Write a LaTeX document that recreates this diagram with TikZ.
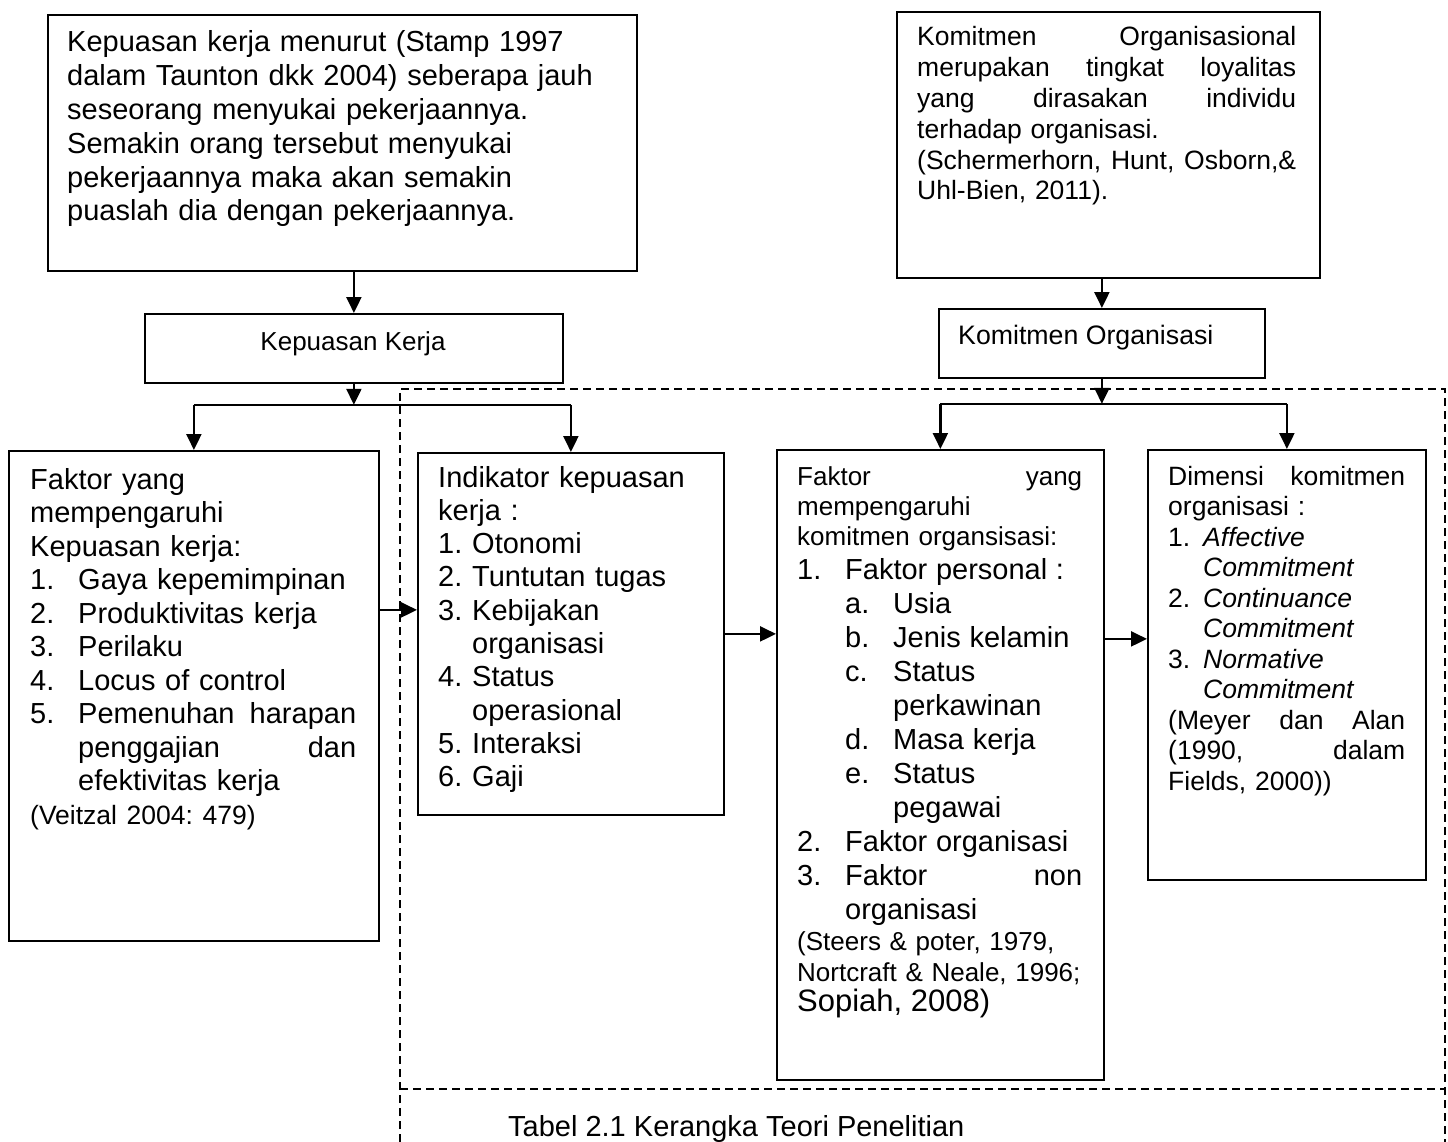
\documentclass[tikz,border=0pt]{standalone}
\usepackage{fontspec}
\setmainfont{Liberation Sans}
\usetikzlibrary{arrows.meta, positioning, calc}
\frenchspacing

\begin{document}
\begin{tikzpicture}[x=1pt, y=-1pt, >={Triangle[length=16pt, width=15pt]},
  box/.style={draw, line width=1.8pt, anchor=north west, inner sep=0pt},
  txt/.style={anchor=base west, inner sep=0pt, align=left},
  arr/.style={->, line width=2.2pt},
  frame/.style={line width=1.6pt, dash pattern=on 8pt off 5pt}]

\useasboundingbox (0,0) rectangle (1448,1142);

% Dashed frame
\draw[frame] (400,1142) -- (400,389) -- (1445,389) -- (1445,1142);
\draw[frame] (400,1089) -- (1445,1089);

% Boxes (pixel grid, y downwards)
\node[box, minimum width=589pt, minimum height=256pt] (kdef) at (47,14) {};
\node[box, minimum width=418pt, minimum height=69pt] (kk) at (144,313) {};
\node[box, minimum width=423pt, minimum height=266pt] (kodef) at (896,11) {};
\node[box, minimum width=326pt, minimum height=69pt] (ko) at (938,308) {};
\node[box, minimum width=370pt, minimum height=490pt] (fk) at (8,450) {};
\node[box, minimum width=306pt, minimum height=362pt] (ind) at (417,452) {};
\node[box, minimum width=327pt, minimum height=630pt] (fkom) at (776,449) {};
\node[box, minimum width=278pt, minimum height=430pt] (dim) at (1147,449) {};

% Texts
\node[txt, text width=560pt, font=\fontsize{29}{33.8}\selectfont] (kdeftxt) at (67,52)
  {Kepuasan kerja menurut (Stamp 1997\\
   dalam Taunton dkk 2004) seberapa jauh\\
   seseorang menyukai pekerjaannya.\\
   Semakin orang tersebut menyukai\\
   pekerjaannya maka akan semakin\\
   puaslah dia dengan pekerjaannya.};

\node[anchor=base, inner sep=0pt, font=\fontsize{26}{30}\selectfont] (kktxt) at (353,350) {Kepuasan Kerja};

\node[txt, text width=379pt, font=\fontsize{26.5}{30.8}\selectfont] (kodeftxt) at (917,46)
  {Komitmen\hfill Organisasional\\
   merupakan\hfill tingkat\hfill loyalitas\\
   yang\hfill dirasakan\hfill individu\\
   terhadap organisasi.\\
   (Schermerhorn,\hfill Hunt,\hfill Osborn,\&\\
   Uhl-Bien, 2011).};

\node[txt, font=\fontsize{26.7}{30}\selectfont] (kotxt) at (958,344) {Komitmen Organisasi};

\node[txt, text width=326pt, font=\fontsize{29}{33.5}\selectfont] (fktxt) at (30,489)
  {Faktor yang\\
   mempengaruhi\\
   Kepuasan kerja:\\
   \makebox[48pt][l]{1.}Gaya kepemimpinan\\
   \makebox[48pt][l]{2.}Produktivitas kerja\\
   \makebox[48pt][l]{3.}Perilaku\\
   \makebox[48pt][l]{4.}Locus of control\\
   \makebox[48pt][l]{5.}Pemenuhan\hfill harapan\\
   \hspace*{48pt}penggajian\hfill dan\\
   \hspace*{48pt}efektivitas kerja\\
   {\fontsize{26.5}{31}\selectfont (Veitzal 2004: 479)}};

\node[txt, text width=270pt, font=\fontsize{29}{33.3}\selectfont] (indtxt) at (438,487)
  {Indikator kepuasan\\
   kerja :\\
   \makebox[34pt][l]{1.}Otonomi\\
   \makebox[34pt][l]{2.}Tuntutan tugas\\
   \makebox[34pt][l]{3.}Kebijakan\\
   \hspace*{34pt}organisasi\\
   \makebox[34pt][l]{4.}Status\\
   \hspace*{34pt}operasional\\
   \makebox[34pt][l]{5.}Interaksi\\
   \makebox[34pt][l]{6.}Gaji};

\node[txt, text width=285pt, font=\fontsize{26}{30}\selectfont] (fkomtxt) at (797,485)
  {Faktor\hfill yang\\
   mempengaruhi\\
   komitmen organsisasi:\\
   {\fontsize{29}{34}\selectfont
   \makebox[48pt][l]{1.}Faktor personal :\\
   \hspace*{48pt}\makebox[48pt][l]{a.}Usia\\
   \hspace*{48pt}\makebox[48pt][l]{b.}Jenis kelamin\\
   \hspace*{48pt}\makebox[48pt][l]{c.}Status\\
   \hspace*{96pt}perkawinan\\
   \hspace*{48pt}\makebox[48pt][l]{d.}Masa kerja\\
   \hspace*{48pt}\makebox[48pt][l]{e.}Status\\
   \hspace*{96pt}pegawai\\
   \makebox[48pt][l]{2.}Faktor organisasi\\
   \makebox[48pt][l]{3.}Faktor\hfill non\\
   \hspace*{48pt}organisasi\\}
   {\fontsize{26}{31}\selectfont
   (Steers \& poter, 1979,\\
   Nortcraft \& Neale, 1996;\\}
   {\fontsize{31}{37}\selectfont Sopiah, 2008)}};

\node[txt, text width=237pt, font=\fontsize{26.5}{30.5}\selectfont] (dimtxt) at (1168,485)
  {Dimensi\hfill komitmen\\
   organisasi :\\
   \makebox[35pt][l]{1.}\textit{Affective}\\
   \hspace*{35pt}\textit{Commitment}\\
   \makebox[35pt][l]{2.}\textit{Continuance}\\
   \hspace*{35pt}\textit{Commitment}\\
   \makebox[35pt][l]{3.}\textit{Normative}\\
   \hspace*{35pt}\textit{Commitment}\\
   (Meyer\hfill dan\hfill Alan\\
   (1990,\hfill dalam\\
   Fields, 2000))};

\node[txt, font=\fontsize{29}{34}\selectfont] (tabel) at (508,1136) {Tabel 2.1 Kerangka Teori Penelitian};

% Connectors
\coordinate (kbr) at ($(kk.south)+(0,21)$);
\coordinate (kobr) at ($(ko.south)+(0,25)$);

\draw[arr] (kdef.south -| kk.north) -- (kk.north);
\draw[arr] (kk.south) -- (kbr);
\draw[line width=2.2pt] (fk.north |- kbr) -- (ind.north |- kbr);
\draw[arr] (fk.north |- kbr) -- (fk.north);
\draw[arr] (ind.north |- kbr) -- (ind.north);

\draw[arr] (kodef.south -| ko.north) -- (ko.north);
\draw[arr] (ko.south) -- (kobr);
\draw[line width=2.2pt] (fkom.north |- kobr) -- (dim.north |- kobr);
\draw[arr] (fkom.north |- kobr) -- (fkom.north);
\draw[arr] (dim.north |- kobr) -- (dim.north);

\draw[arr] ([yshift=24pt]ind.west -| fk.east) -- ([yshift=24pt]ind.west);
\draw[arr] (ind.east) -- (ind.east -| fkom.west);
\draw[arr] ([yshift=26pt]dim.west -| fkom.east) -- ([yshift=26pt]dim.west);

\end{tikzpicture}
\end{document}
